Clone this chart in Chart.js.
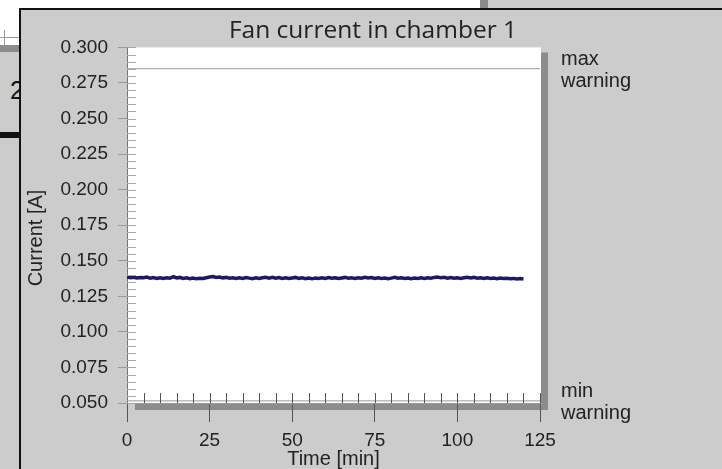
<!DOCTYPE html>
<html>
<head>
<meta charset="utf-8">
<title>Fan current in chamber 1</title>
<script src="https://cdn.jsdelivr.net/npm/chart.js@4.4.1/dist/chart.umd.min.js"></script>
<style>
  html, body { margin: 0; padding: 0; }
  body { width: 722px; height: 469px; background: #cccccc; position: relative; overflow: hidden; font-family: "Liberation Sans", Arial, sans-serif; }
  .abs { position: absolute; }
  #win { left: 19px; top: 8px; right: 0; bottom: 0; background: #cccccc; border-top: 2px solid #111; border-left: 2px solid #111; }
  #digit { left: 0; top: 52px; width: 19px; height: 80px; overflow: hidden; }
  #digit span { position: absolute; left: 10px; top: 24px; font-size: 25px; color: #111; }
  #chartBox { left: 0; top: 0; width: 722px; height: 469px; }
</style>
</head>
<body>
<!-- windows behind the chart window -->
<div class="abs" style="left:0;top:0;width:480px;height:8px;background:#fff"></div>
<div class="abs" style="left:480px;top:0;width:8px;height:8px;background:#8a8a8a"></div>
<div class="abs" style="left:0;top:0;width:19px;height:45px;background:#fff"></div>
<div class="abs" style="left:0;top:37px;width:19px;height:1px;background:#999"></div>
<div class="abs" style="left:4px;top:30px;width:1px;height:15px;background:#999"></div>
<div class="abs" style="left:0;top:45px;width:19px;height:7px;background:#8c8c8c"></div>
<div class="abs" id="digit"><span>2</span></div>
<div class="abs" style="left:0;top:132px;width:19px;height:6px;background:#111"></div>
<div class="abs" id="win"></div>
<div class="abs" id="chartBox"><canvas id="myChart" width="722" height="469"></canvas></div>

<script>
// current readings, one per minute from t = 0
var currents = [
  0.1386, 0.1381, 0.1384, 0.1379, 0.1383, 0.1380, 0.1385, 0.1378, 0.1382, 0.1376,
  0.1381, 0.1375, 0.1380, 0.1377, 0.1388, 0.1379, 0.1383, 0.1376, 0.1380, 0.1374,
  0.1379, 0.1373, 0.1377, 0.1375, 0.1381, 0.1386, 0.1389, 0.1382, 0.1385, 0.1379,
  0.1383, 0.1377, 0.1381, 0.1375, 0.1380, 0.1376, 0.1382, 0.1378, 0.1374, 0.1380,
  0.1376, 0.1381, 0.1384, 0.1378, 0.1383, 0.1377, 0.1382, 0.1376, 0.1380, 0.1375,
  0.1379, 0.1383, 0.1376, 0.1381, 0.1374, 0.1378, 0.1373, 0.1379, 0.1375, 0.1380,
  0.1376, 0.1382, 0.1377, 0.1381, 0.1375, 0.1379, 0.1383, 0.1377, 0.1380, 0.1376,
  0.1381, 0.1378, 0.1384, 0.1379, 0.1382, 0.1376, 0.1380, 0.1375, 0.1379, 0.1374,
  0.1378, 0.1383, 0.1377, 0.1381, 0.1376, 0.1379, 0.1374, 0.1378, 0.1375, 0.1380,
  0.1376, 0.1381, 0.1377, 0.1383, 0.1386, 0.1380, 0.1384, 0.1378, 0.1382, 0.1377,
  0.1381, 0.1376, 0.1380, 0.1384, 0.1379, 0.1383, 0.1377, 0.1381, 0.1375, 0.1380,
  0.1376, 0.1379, 0.1374, 0.1378, 0.1375, 0.1377, 0.1373, 0.1376, 0.1372, 0.1375,
  0.1372
];
var sampleMin = 1;
var times = currents.map(function (c, i) { return i * sampleMin; });

var maxWarning = 0.285;
var minWarning = 0.0515;
var warningLabels = [['max', 'warning'], ['min', 'warning']];

var xRange = [0, 125];
var xStep = 25, xMinorStep = 5;
var yRange = [0.05, 0.30];
var yStep = 0.025, yMinorStep = 0.005;

var tickFont = { family: '"Liberation Sans", Arial, sans-serif', size: 19 };
var labelFont = { family: '"Liberation Sans", Arial, sans-serif', size: 20, lineHeight: 1 };

var plotDecor = {
    id: 'plotDecor',
    beforeDraw: function (chart) {
        var c = chart.ctx, a = chart.chartArea;
        c.save();
        // drop shadow of the plot panel
        c.fillStyle = '#8c8c8c';
        c.fillRect(a.right + 1, a.top + 5, 7, a.bottom - a.top + 2);
        c.fillRect(a.left + 8, a.bottom, a.right - a.left, 7);
        c.fillStyle = '#ffffff';
        c.fillRect(a.left, a.top, a.right - a.left + 1, a.bottom - a.top);
        c.restore();
    },
    afterDraw: function (chart) {
        var c = chart.ctx, a = chart.chartArea;
        var xs = chart.scales.x, ys = chart.scales.y;
        c.save();
        // minor ticks inside the plot
        c.lineWidth = 1;
        c.strokeStyle = '#a8a8a8';
        for (var v = yRange[0]; v <= yRange[1] + 1e-9; v += yMinorStep) {
            var py = Math.round(ys.getPixelForValue(v)) + 0.5;
            c.beginPath(); c.moveTo(a.left, py); c.lineTo(a.left + 9, py); c.stroke();
        }
        c.strokeStyle = '#555';
        for (var t = xRange[0] + xMinorStep; t <= xRange[1]; t += xMinorStep) {
            var px = Math.round(xs.getPixelForValue(t)) + 0.5;
            c.beginPath(); c.moveTo(px, a.bottom); c.lineTo(px, a.bottom - 10); c.stroke();
        }
        // warning labels on the right
        c.fillStyle = '#222';
        c.font = '20px "Liberation Sans", Arial, sans-serif';
        c.textBaseline = 'alphabetic';
        [maxWarning, minWarning].forEach(function (w, i) {
            var py = ys.getPixelForValue(w);
            c.fillText(warningLabels[i][0], a.right + 21, py - 4);
            c.fillText(warningLabels[i][1], a.right + 21, py + 18);
        });
        c.restore();
    }
};

var ctx = document.getElementById('myChart').getContext('2d');
var chart = new Chart(ctx, {
    type: 'line',
    data: {
        datasets: [{
            data: times.map(function (t, i) { return { x: t, y: currents[i] }; }),
            borderColor: '#1c196c',
            borderWidth: 3.5,
            pointRadius: 0,
            tension: 0,
            yAxisID: 'y'
        }, {
            data: [{ x: xRange[0], y: maxWarning }, { x: xRange[1], y: maxWarning }],
            borderColor: '#9a9a9a',
            borderWidth: 1,
            pointRadius: 0,
            yAxisID: 'y'
        }, {
            data: [{ x: xRange[0], y: minWarning }, { x: xRange[1], y: minWarning }],
            borderColor: '#9a9a9a',
            borderWidth: 1,
            pointRadius: 0,
            yAxisID: 'y'
        }]
    },
    options: {
        responsive: false,
        animation: false,
        layout: { padding: { left: 24, top: 0, right: 0, bottom: 0 } },
        plugins: {
            legend: { display: false },
            tooltip: { enabled: false },
            title: {
                display: true,
                text: 'Fan current in chamber 1',
                color: '#222',
                font: { family: '"Open Sans", sans-serif', size: 24.5, weight: 'normal', lineHeight: 1.2 },
                padding: { top: 16, bottom: 2 }
            }
        },
        scales: {
            x: {
                type: 'linear',
                min: xRange[0],
                max: xRange[1],
                ticks: { stepSize: xStep, color: '#222', font: tickFont, padding: 7, maxRotation: 0 },
                grid: { drawOnChartArea: false, drawTicks: true, tickLength: 19, color: '#555' },
                border: { color: '#999' },
                title: { display: true, text: 'Time [min]', color: '#222', font: labelFont, padding: { top: 0, bottom: 0 } },
                afterFit: function (s) { s.width = s.width; s.height = 66; }
            },
            y: {
                type: 'linear',
                position: 'left',
                min: yRange[0],
                max: yRange[1],
                ticks: {
                    stepSize: yStep, color: '#222', font: tickFont, padding: 10,
                    callback: function (v) { return v.toFixed(3); }
                },
                grid: { drawOnChartArea: false, drawTicks: true, tickLength: 9, color: '#999' },
                border: { color: '#777' },
                // trailing spaces push the rotated text down, as in the original
                title: { display: true, text: 'Current [A]\u2002\u2002 ', color: '#222', font: labelFont, padding: { top: 2, bottom: 0 } },
                afterFit: function (s) { s.width = 103; }
            },
            side: {
                type: 'linear',
                position: 'right',
                ticks: { display: false },
                grid: { display: false },
                border: { display: false },
                afterFit: function (s) { s.width = 182; }
            }
        }
    },
    plugins: [plotDecor]
});
</script>
</body>
</html>
